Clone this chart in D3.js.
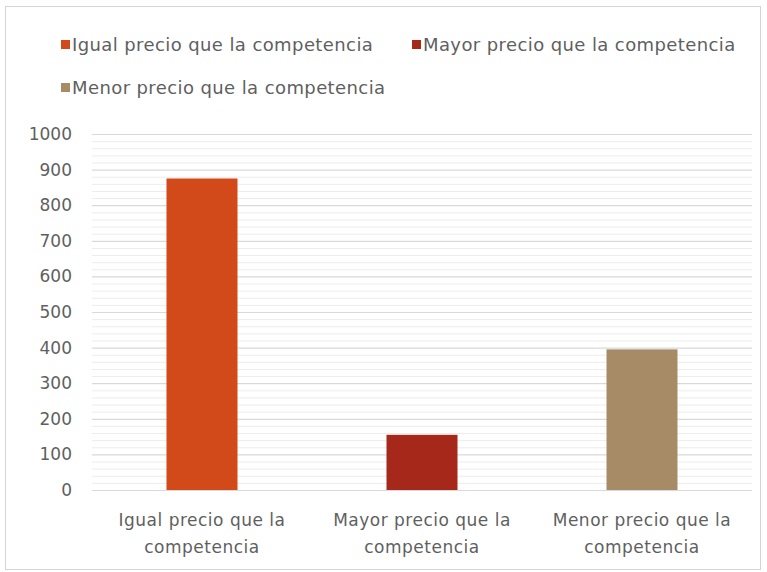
<!DOCTYPE html>
<html>
<head>
<meta charset="utf-8">
<script src="https://cdn.jsdelivr.net/npm/d3@7"></script>
<style>
  body { margin: 0; background: #fff; }
  svg { display: block; font-family: "DejaVu Sans", sans-serif; }
</style>
</head>
<body>
<svg id="chart" width="767" height="572"></svg>
<script>
// Data
const categories = ['Igual precio que la competencia', 'Mayor precio que la competencia', 'Menor precio que la competencia']
const values = [875, 155, 395]
const colors = ['#d24a19', '#a5281b', '#a68b66']
const xLabelLines = [['Igual precio que la', 'competencia'], ['Mayor precio que la', 'competencia'], ['Menor precio que la', 'competencia']]
const yTicks = [0, 100, 200, 300, 400, 500, 600, 700, 800, 900, 1000]
const yMinorTicks = d3.range(0, 1001, 20).filter(v => v % 100 !== 0)

const width = 767
const height = 572
const plot = { left: 92, right: 752, top: 134, bottom: 490 }
const textColor = '#5f5f5f'

const svg = d3.select('#chart')

// Outer frame of the chart
svg.append('rect')
  .attr('x', 5.5)
  .attr('y', 6.5)
  .attr('width', width - 12)
  .attr('height', height - 9)
  .attr('fill', '#fff')
  .attr('stroke', '#d4d4d4')

const x = d3.scaleBand()
  .domain(categories)
  .range([plot.left, plot.right])

const y = d3.scaleLinear()
  .domain([0, 1000])
  .range([plot.bottom, plot.top])

// Minor gridlines first, then the major ones on top
svg.append('g')
  .attr('transform', `translate(${plot.left}, 0)`)
  .call(d3.axisLeft(y).tickValues(yMinorTicks).tickSize(-(plot.right - plot.left)).tickFormat(''))
  .call(g => g.select('.domain').remove())
  .call(g => g.selectAll('line').attr('stroke', '#ececec'))

svg.append('g')
  .attr('transform', `translate(${plot.left}, 0)`)
  .call(d3.axisLeft(y).tickValues(yTicks).tickSize(-(plot.right - plot.left)).tickFormat(''))
  .call(g => g.select('.domain').remove())
  .call(g => g.selectAll('line').attr('stroke', '#d9d9d9').attr('stroke-width', 1.2))

// Y tick labels
svg.append('g')
  .attr('transform', `translate(${plot.left}, 0)`)
  .call(d3.axisLeft(y).tickValues(yTicks).tickSize(0).tickPadding(20).tickFormat(d3.format('d')))
  .call(g => g.select('.domain').remove())
  .call(g => g.selectAll('text')
    .attr('fill', textColor)
    .style('font-size', '17px')
    .style('font-family', '"DejaVu Sans", sans-serif'))

// Bars
const barWidth = 71
svg.append('g')
  .selectAll('rect')
  .data(categories)
  .enter()
  .append('rect')
  .attr('x', d => x(d) + x.bandwidth() / 2 - barWidth / 2)
  .attr('y', (d, i) => y(values[i]))
  .attr('width', barWidth)
  .attr('height', (d, i) => y(0) - y(values[i]))
  .attr('fill', (d, i) => colors[i])

// Category labels, two lines each
svg.append('g')
  .selectAll('text')
  .data(categories)
  .enter()
  .append('text')
  .attr('text-anchor', 'middle')
  .attr('fill', textColor)
  .style('font-size', '17px')
  .style('letter-spacing', '0.5px')
  .each(function (d, i) {
    const cx = x(d) + x.bandwidth() / 2
    d3.select(this).selectAll('tspan')
      .data(xLabelLines[i])
      .enter()
      .append('tspan')
      .attr('x', cx)
      .attr('y', (t, j) => 526 + j * 27)
      .text(t => t)
  })

// Legend: two items on the first row, one on the second
const legendPos = [[61, 45], [412, 45], [61, 88]]
const legend = svg.append('g')
  .selectAll('g')
  .data(categories)
  .enter()
  .append('g')
  .attr('transform', (d, i) => `translate(${legendPos[i][0]}, ${legendPos[i][1]})`)

legend.append('rect')
  .attr('x', 0)
  .attr('y', -5)
  .attr('width', 9)
  .attr('height', 9)
  .attr('fill', (d, i) => colors[i])

legend.append('text')
  .attr('x', 11)
  .attr('y', 6)
  .attr('fill', textColor)
  .style('font-size', '18px')
  .style('letter-spacing', '0.4px')
  .text(d => d)
</script>
</body>
</html>
